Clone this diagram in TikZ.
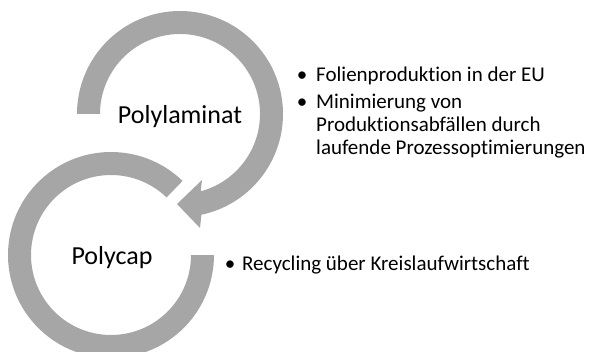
\documentclass[tikz,border=0pt]{standalone}
\usepackage{fontspec}
\setmainfont{Carlito}[Ligatures=NoCommon,RawFeature={-liga;-clig;-dlig}]
\usetikzlibrary{calc}
\definecolor{ringgray}{HTML}{A6A6A6}
\tikzset{
  ring/.style={fill=ringgray, draw=none},
  circlelabel/.style={anchor=base, inner sep=0pt, font=\fontsize{26}{31}\selectfont},
  bulletmark/.style={anchor=base, inner sep=0pt, font=\fontsize{21}{23}\selectfont},
  bullettext/.style={anchor=base west, inner sep=0pt, font=\fontsize{21}{23}\selectfont}
}
\begin{document}
\begin{tikzpicture}[x=1pt,y=1pt]
\useasboundingbox (0,0) rectangle (594,351);
\clip (0,0) rectangle (594,351);
% top ring with arrow head (Polylaminat)
\coordinate (ctop) at (180,237);
\coordinate (headouter) at (200,123);
\coordinate (headtip) at (177,147);
\coordinate (headinner) at (202,171);
\fill[ring] ($(ctop)+(180:103)$) arc[start angle=180,end angle=-78,radius=103]
  -- (headouter) -- (headtip) -- (headinner)
  -- ($(ctop)+(-75:80)$) arc[start angle=-75,end angle=180,radius=80] -- cycle;
% bottom ring (Polycap)
\coordinate (cbot) at (111,96);
\fill[ring] ($(cbot)+(46:103)$) arc[start angle=46,end angle=360,radius=103]
  -- ($(cbot)+(0:80)$) arc[start angle=360,end angle=46,radius=80] -- cycle;
% labels
\node[circlelabel] (poly) at (180,227) {Polylaminat};
\node[circlelabel] (cap) at (112,87) {Polycap};
% bullets right of top ring
\node[bulletmark] (b1) at (302,269) {•};
\node[bullettext] (t1) at (316,269) {Folienproduktion in der EU};
\node[bulletmark] (b2) at (302,242) {•};
\node[bullettext] (t2) at (316,242) {Minimierung von};
\node[bullettext] (t3) at (316,219) {Produktionsabfällen durch};
\node[bullettext] (t4) at (316,196) {laufende Prozessoptimierungen};
% bullet right of bottom ring
\node[bulletmark] (b3) at (230,81) {•};
\node[bullettext] (t5) at (242,81) {Recycling über Kreislaufwirtschaft};
\end{tikzpicture}
\end{document}
